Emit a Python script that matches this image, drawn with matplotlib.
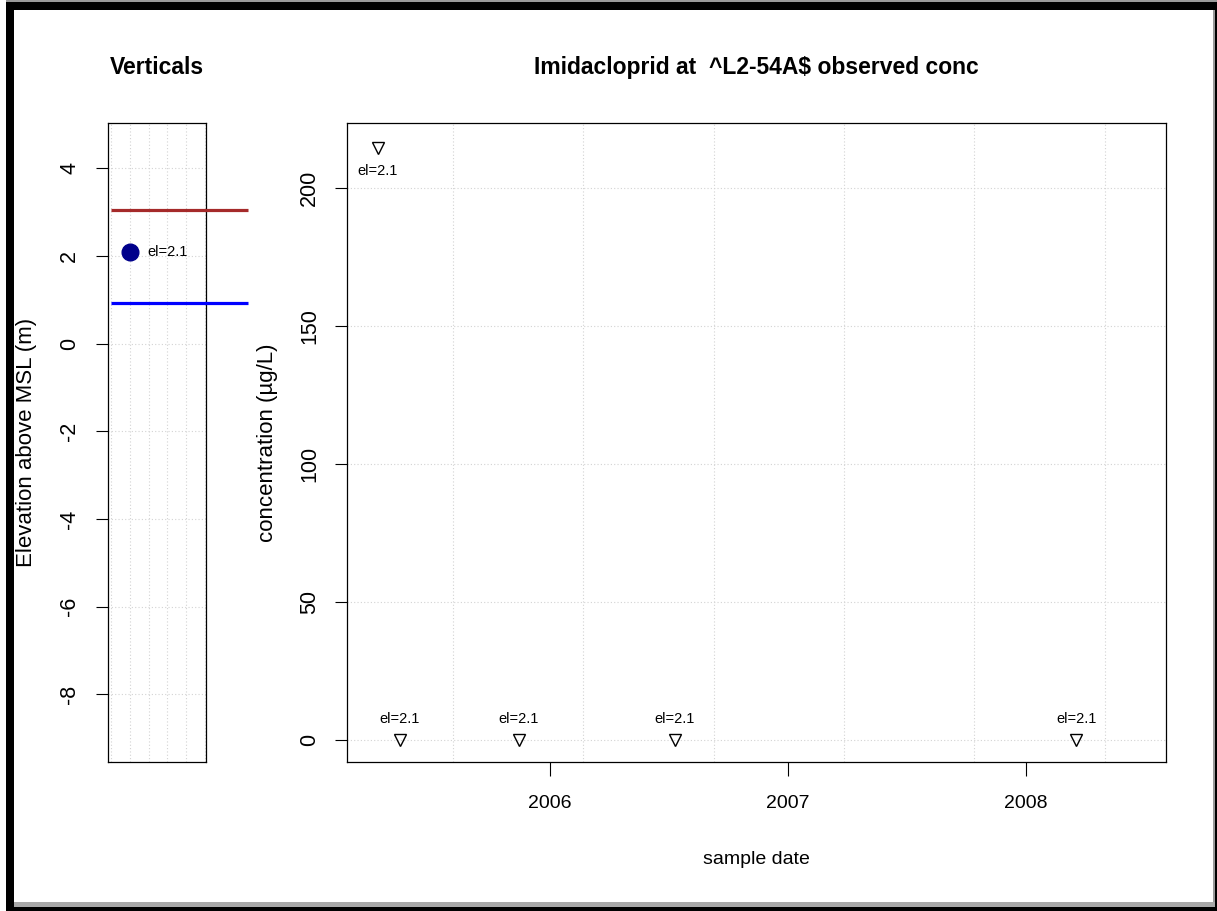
import matplotlib
matplotlib.use("Agg")
import matplotlib.pyplot as plt
import matplotlib.dates as mdates
from matplotlib.patches import Rectangle
import pandas as pd
import numpy as np

plt.rcParams['font.family'] = ['Liberation Sans', 'DejaVu Sans']

# ---------------- data ----------------
sample_dates = ["2005-04-12", "2005-05-16", "2005-11-14", "2006-07-11", "2008-03-18"]
concentrations = [214.5, 0.0, 0.0, 0.0, 0.0]
sample_labels = ["el=2.1", "el=2.1", "el=2.1", "el=2.1", "el=2.1"]

screen_elev = [2.1]
screen_labels = ["el=2.1"]
top_line_elev = 3.05      # brown line
bottom_line_elev = 0.93   # blue line

elev_ticks = [4, 2, 0, -2, -4, -6, -8]
conc_ticks = [0, 50, 100, 150, 200]
year_ticks = ["2006-01-01", "2007-01-01", "2008-01-01"]
year_labels = ["2006", "2007", "2008"]
grid_days = [13000, 13200, 13400, 13600, 13800, 14000]  # days since 1970

title_left = "Verticals"
title_main = "Imidacloprid at  ^L2-54A$ observed conc"
ylabel_left = "Elevation above MSL (m)"
ylabel_main = "concentration (\u00b5g/L)"
xlabel_main = "sample date"

# ---------------- figure ----------------
W, H = 1217, 911
fig = plt.figure(figsize=(W / 100, H / 100), dpi=100)

def frac(x0, y0, x1, y1):
    return [x0 / W, 1 - y1 / H, (x1 - x0) / W, (y1 - y0) / H]

def rect(x0, y0, x1, y1, color):
    l, b, w, h = frac(x0, y0, x1, y1)
    fig.add_artist(Rectangle((l, b), w, h, transform=fig.transFigure,
                             facecolor=color, edgecolor='none', zorder=-5))

# outer frame
rect(6, 0, 1217, 2, '#9a9a9a')
rect(6, 2, 1217, 10, 'black')
rect(6, 2, 14, 911, 'black')
rect(1213, 10, 1215, 907, '#9a9a9a')
rect(1215, 2, 1217, 911, 'black')
rect(14, 902, 1215, 907, '#a8a8a8')
rect(6, 907, 1217, 911, 'black')

grid_kw = dict(color='#d3d3d3', linewidth=0.8, dashes=(1, 2))
FS = 14       # horizontal text
FSR = 16      # rotated axis labels
FSRT = 15.5   # rotated tick labels

# ---------------- left panel ----------------
axL = fig.add_axes(frac(108, 123, 206, 762))
axL.set_xlim(-0.16, 5.05)
axL.set_ylim(-9.54, 5.03)
for gx in range(0, 6):
    axL.axvline(gx, zorder=0, **grid_kw)
for gy in elev_ticks:
    axL.axhline(gy, zorder=0, **grid_kw)
axL.plot([0, 7.26], [top_line_elev, top_line_elev], color='#A52A2A', lw=2.3,
         clip_on=False, solid_capstyle='butt', zorder=3)
axL.plot([0, 7.26], [bottom_line_elev, bottom_line_elev], color='#0000FF', lw=2.3,
         clip_on=False, solid_capstyle='butt', zorder=3)
axL.plot([1] * len(screen_elev), screen_elev, 'o', color='#00008B', ms=12, zorder=4)
for e, lab in zip(screen_elev, screen_labels):
    axL.text(1.95, e, lab, fontsize=10.5, ha='left', va='center', zorder=5)
axL.set_xticks([])
axL.set_yticks(elev_ticks)
axL.set_yticklabels([str(t) for t in elev_ticks])
axL.tick_params(axis='y', labelrotation=90, length=8.6, width=0.8, pad=11.5,
                labelsize=FSRT, direction='out')
for lbl in axL.get_yticklabels():
    lbl.set_va('center')
axL.set_ylabel(ylabel_left, fontsize=FSR, va='center')
axL.yaxis.set_label_coords((27 - 108) / 98, 0.5)
for s in axL.spines.values():
    s.set_linewidth(0.9)
axL.text(0.5, (762 - 67) / 639, title_left, transform=axL.transAxes,
         ha='center', va='center', fontsize=16.5, fontweight='bold')

# ---------------- main panel ----------------
axM = fig.add_axes(frac(347, 123, 1166, 762))
xd = mdates.date2num(pd.to_datetime(sample_dates).to_pydatetime())
axM.set_xlim(12837.7, 14093.7)
axM.set_ylim(-8.15, 223.45)
for gx in grid_days:
    axM.axvline(gx, zorder=0, **grid_kw)
for gy in conc_ticks:
    axM.axhline(gy, zorder=0, **grid_kw)
axM.plot(xd, concentrations, 'v', ms=8.5, mfc='none', mec='black', mew=1.0, zorder=4)
for x, c, lab in zip(xd, concentrations, sample_labels):
    if c > 100:
        axM.annotate(lab, (x, c), xytext=(0, -17), textcoords='offset points',
                     ha='center', va='center', fontsize=10.5)
    else:
        axM.annotate(lab, (x, c), xytext=(0, 15), textcoords='offset points',
                     ha='center', va='center', fontsize=10.5)
tick_nums = mdates.date2num(pd.to_datetime(year_ticks).to_pydatetime())
axM.set_xticks(tick_nums)
axM.set_xticklabels(year_labels)
axM.set_yticks(conc_ticks)
axM.set_yticklabels([str(t) for t in conc_ticks])
axM.tick_params(axis='x', length=10, width=0.8, pad=13.5, labelsize=FS, direction='out')
axM.tick_params(axis='y', labelrotation=90, length=8.6, width=0.8, pad=10.8,
                labelsize=FSRT, direction='out')
for lbl in axM.get_yticklabels():
    lbl.set_va('center')
axM.set_ylabel(ylabel_main, fontsize=FSR, va='center')
axM.yaxis.set_label_coords((268 - 347) / 819, 0.5)
axM.set_xlabel(xlabel_main, fontsize=FS, va='center')
axM.xaxis.set_label_coords(0.5, (762 - 860) / 639)
for s in axM.spines.values():
    s.set_linewidth(0.9)
axM.text(0.5, (762 - 67) / 639, title_main, transform=axM.transAxes,
         ha='center', va='center', fontsize=16.5, fontweight='bold')

fig.savefig("out.png", dpi=100)
